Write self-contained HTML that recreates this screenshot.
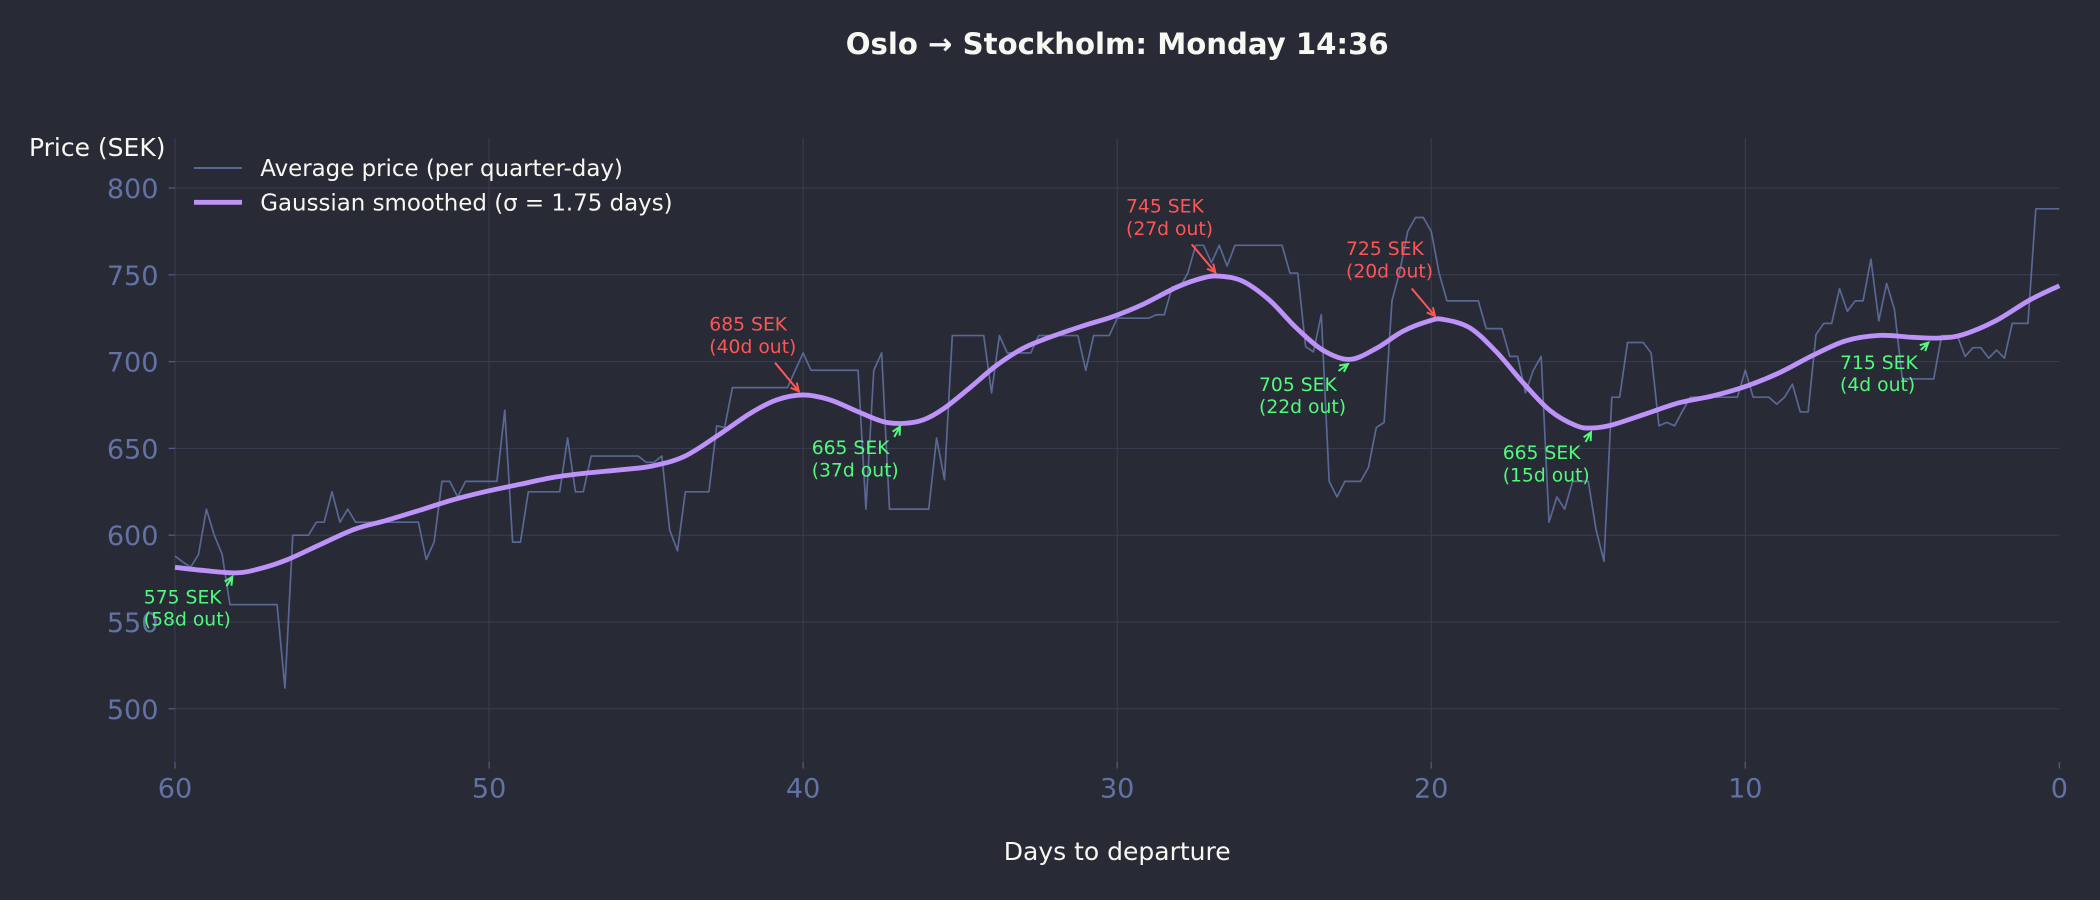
<!DOCTYPE html>
<html>
<head>
<meta charset="utf-8">
<style>
  html, body { margin: 0; padding: 0; background: #282a36; }
  svg { display: block; }
  text { font-family: "DejaVu Sans", "Liberation Sans", sans-serif; }
</style>
</head>
<body>
<svg width="2100" height="900" viewBox="0 0 2100 900" xmlns="http://www.w3.org/2000/svg">
  <rect x="0" y="0" width="2100" height="900" fill="#282a36"/>

  <!-- Title -->
  <text x="1117.2" y="54" text-anchor="middle" font-size="29.17" font-weight="bold" fill="#f8f8f2">Oslo → Stockholm: Monday 14:36</text>

  <!-- Grid lines -->
  <g stroke="#3b3e51" stroke-width="1">
    <line x1="175" y1="188" x2="2059.4" y2="188"/>
    <line x1="175" y1="274.8" x2="2059.4" y2="274.8"/>
    <line x1="175" y1="361.6" x2="2059.4" y2="361.6"/>
    <line x1="175" y1="448.4" x2="2059.4" y2="448.4"/>
    <line x1="175" y1="535.2" x2="2059.4" y2="535.2"/>
    <line x1="175" y1="622" x2="2059.4" y2="622"/>
    <line x1="175" y1="708.8" x2="2059.4" y2="708.8"/>
    <line x1="175" y1="137.7" x2="175" y2="762"/>
    <line x1="489.1" y1="137.7" x2="489.1" y2="762"/>
    <line x1="803.1" y1="137.7" x2="803.1" y2="762"/>
    <line x1="1117.2" y1="137.7" x2="1117.2" y2="762"/>
    <line x1="1431.2" y1="137.7" x2="1431.2" y2="762"/>
    <line x1="1745.3" y1="137.7" x2="1745.3" y2="762"/>
  </g>

  <!-- Tick marks -->
  <g stroke="#4f5b82" stroke-width="1.3">
    <line x1="168.5" y1="188" x2="175" y2="188"/>
    <line x1="168.5" y1="274.8" x2="175" y2="274.8"/>
    <line x1="168.5" y1="361.6" x2="175" y2="361.6"/>
    <line x1="168.5" y1="448.4" x2="175" y2="448.4"/>
    <line x1="168.5" y1="535.2" x2="175" y2="535.2"/>
    <line x1="168.5" y1="622" x2="175" y2="622"/>
    <line x1="168.5" y1="708.8" x2="175" y2="708.8"/>
    <line x1="175" y1="762" x2="175" y2="768.5"/>
    <line x1="489.1" y1="762" x2="489.1" y2="768.5"/>
    <line x1="803.1" y1="762" x2="803.1" y2="768.5"/>
    <line x1="1117.2" y1="762" x2="1117.2" y2="768.5"/>
    <line x1="1431.2" y1="762" x2="1431.2" y2="768.5"/>
    <line x1="1745.3" y1="762" x2="1745.3" y2="768.5"/>
    <line x1="2059.4" y1="762" x2="2059.4" y2="768.5"/>
  </g>

  <!-- Y tick labels -->
  <g font-size="27.08" fill="#6272a4" text-anchor="end">
    <text x="158.5" y="198">800</text>
    <text x="158.5" y="284.8">750</text>
    <text x="158.5" y="371.6">700</text>
    <text x="158.5" y="458.4">650</text>
    <text x="158.5" y="545.2">600</text>
    <text x="158.5" y="632">550</text>
    <text x="158.5" y="718.8">500</text>
  </g>

  <!-- X tick labels -->
  <g font-size="27.08" fill="#6272a4" text-anchor="middle">
    <text x="175" y="797.3">60</text>
    <text x="489.1" y="797.3">50</text>
    <text x="803.1" y="797.3">40</text>
    <text x="1117.2" y="797.3">30</text>
    <text x="1431.2" y="797.3">20</text>
    <text x="1745.3" y="797.3">10</text>
    <text x="2059.4" y="797.3">0</text>
  </g>

  <!-- Axis labels -->
  <text x="165.5" y="156" text-anchor="end" font-size="25" fill="#f8f8f2">Price (SEK)</text>
  <text x="1117.2" y="860" text-anchor="middle" font-size="25" fill="#f8f8f2">Days to departure</text>

  <!-- Data series (data coords: i = quarter-day index 0..240, p = price) -->
  <g id="datag" transform="matrix(7.8515 0 0 -1.736 175 1576.8)">
    <polyline fill="none" stroke="#6272a4" stroke-opacity="0.85" stroke-width="1.7" vector-effect="non-scaling-stroke" stroke-linejoin="round"
      points="0,588 1,584.5 2,581.6 3,589 4,615 5,600 6,589 7,560 13,560 14,512 15,600 17,600 18,607.5 19,607.5 20,625 21,607.5 22,615 23,607.5 31,607.5 32,586 33,596 34,631 35,631 36,622 37,631 41,631 42,672 43,596 44,596 45,625 49,625 50,656 51,625 52,625 53,645.6 59,645.6 60,642 61,642 62,645.6 63,603 64,591 65,625 68,625 69,663 70,662 71,685 78,685 79,695 80,705 81,695 87,695 88,615 89,695 90,705 91,615 96,615 97,656 98,632 99,715 103,715 104,682 105,715 106,705 109,705 110,715 115,715 116,695 117,715 119,715 120,725 124,725 125,727 126,727 127,743 128,743 129,751 130,767 131,767 132,757 133,767 134,755 135,767 141,767 142,751 143,751 144,708.6 145,705.6 146,727 147,631 148,622 149,631 151,631 152,639 153,662 154,665 155,735 156,752 157,775 158,783 159,783 160,775 161,751 162,735 166,735 167,719 169,719 170,703 171,703 172,682 173,695 174,703 175,607.5 176,622 177,615 178,631 180,631 181,603 182,585 183,679.5 184,679.5 185,711 187,711 188,705 189,663 190,665 191,663 192,671.5 193,679.5 199,679.5 200,695 201,679.5 203,679.5 204,675.5 205,679.5 206,687 207,671 208,671 209,715.5 210,722 211,722 212,742 213,729 214,735 215,735 216,759 217,723.5 218,745 219,730 220,690 224,690 225,715 227,715 228,703 229,708 230,708 231,702 232,706.6 233,702 234,722 236,722 237,788 240,788"/>
    <polyline id="smooth" fill="none" stroke="#bd93f9" stroke-width="4.8" vector-effect="non-scaling-stroke" stroke-linejoin="round" stroke-linecap="butt"
      points="0,581.5 3.6,579.7 7.8,578.3 10.8,580.7 14.2,585.7 18.5,594.6 22.9,603.5 26.9,608.5 31.2,614.4 35.4,620.4 39.7,625.3 43.9,629.3 48.2,633.3 52.4,635.8 56.6,637.6 60.7,639.8 64.8,645.2 69,657 73.2,670 76.6,677.9 80,680.8 83.4,678 86.8,671.5 90.2,665.4 92.8,664.4 95.3,666.4 97.9,672.9 101.2,684.8 104.6,697.7 108,707.6 111.4,714 115.6,720.5 119.5,726 123.3,733 127.6,742.9 131,748.3 133.1,749.2 136,746.3 139.4,735.4 142.8,719.5 146.2,706.6 149.6,701.3 153,707.6 156.4,717.5 159.8,723.5 161.5,724.3 164.9,719.5 168.3,705.6 171.7,687.8 175.1,671.9 178.5,663 180.6,661.8 183.1,663.6 187.4,670 191.6,676.3 195.9,680.3 200.1,685.8 204.4,693.7 208.6,703.6 212.8,712 217.1,715.1 221.3,714 224.7,713.6 227.7,715.5 231.9,723.5 236.2,735.4 240,743.7"/>
  </g>

  <!-- Legend -->
  <line x1="194" y1="168" x2="242" y2="168" stroke="#6272a4" stroke-width="1.8"/>
  <line x1="194" y1="202.3" x2="242" y2="202.3" stroke="#bd93f9" stroke-width="4.8"/>
  <text x="260.3" y="176" font-size="22.9" fill="#f8f8f2">Average price (per quarter-day)</text>
  <text x="260.3" y="210.3" font-size="22.9" fill="#f8f8f2">Gaussian smoothed (σ = 1.75 days)</text>

  <!-- Annotations: arrows -->
  <g fill="none" stroke-width="2" stroke-linejoin="miter">
    <path stroke="#50fa7b" d="M226.5,586.2 L232.3,576.8 M231.45,585.7 L232.3,576.8 L224.67,581.46"/>
    <path stroke="#ff5555" d="M775,362.7 L798.8,391.3 M790.6,387.71 L798.8,391.3 L796.76,382.59"/>
    <path stroke="#50fa7b" d="M894.2,437 L900,426.6 M899.61,435.53 L900,426.6 L892.61,431.65"/>
    <path stroke="#ff5555" d="M1191.7,244.4 L1215.3,272.3 M1207.07,268.77 L1215.3,272.3 L1213.19,263.61"/>
    <path stroke="#ff5555" d="M1411.7,288.5 L1435,316 M1426.76,312.48 L1435,316 L1432.88,307.3"/>
    <path stroke="#50fa7b" d="M1338.5,371 L1348,364 M1343.85,371.93 L1348,364 L1339.17,365.45"/>
    <path stroke="#50fa7b" d="M1585.5,442 L1591,432.2 M1590.64,441.14 L1591,432.2 L1583.64,437.28"/>
    <path stroke="#50fa7b" d="M1920.8,349.8 L1928.3,342.6 M1925.21,350.99 L1928.3,342.6 L1919.73,345.15"/>
  </g>

  <!-- Annotations: text -->
  <g font-size="18.75">
    <text x="143.8" y="603.3" fill="#50fa7b">575 SEK</text>
    <text x="143.8" y="625.6" fill="#50fa7b">(58d out)</text>

    <text x="709.3" y="330.5" fill="#ff5555">685 SEK</text>
    <text x="709.3" y="352.8" fill="#ff5555">(40d out)</text>

    <text x="811.7" y="454.2" fill="#50fa7b">665 SEK</text>
    <text x="811.7" y="476.5" fill="#50fa7b">(37d out)</text>

    <text x="1126" y="212.7" fill="#ff5555">745 SEK</text>
    <text x="1126" y="235" fill="#ff5555">(27d out)</text>

    <text x="1346" y="255.1" fill="#ff5555">725 SEK</text>
    <text x="1346" y="277.4" fill="#ff5555">(20d out)</text>

    <text x="1259" y="390.8" fill="#50fa7b">705 SEK</text>
    <text x="1259" y="413.1" fill="#50fa7b">(22d out)</text>

    <text x="1502.7" y="459" fill="#50fa7b">665 SEK</text>
    <text x="1502.7" y="481.3" fill="#50fa7b">(15d out)</text>

    <text x="1840" y="368.8" fill="#50fa7b">715 SEK</text>
    <text x="1840" y="391.1" fill="#50fa7b">(4d out)</text>
  </g>
</svg>
<script>
(function () {
  try {
    var pl = document.getElementById('smooth');
    if (!pl) return;
    var pts = pl.getAttribute('points').trim().split(/\s+/).map(function (s) {
      return s.split(',').map(Number);
    });
    var n = pts.length;
    var d = 'M' + pts[0][0] + ',' + pts[0][1];
    for (var i = 0; i < n - 1; i++) {
      var p0 = pts[i - 1] || pts[i];
      var p1 = pts[i];
      var p2 = pts[i + 1];
      var p3 = pts[i + 2] || pts[i + 1];
      var c1x = p1[0] + (p2[0] - p0[0]) / 6, c1y = p1[1] + (p2[1] - p0[1]) / 6;
      var c2x = p2[0] - (p3[0] - p1[0]) / 6, c2y = p2[1] - (p3[1] - p1[1]) / 6;
      d += ' C' + c1x.toFixed(3) + ',' + c1y.toFixed(3) + ' ' + c2x.toFixed(3) + ',' + c2y.toFixed(3) + ' ' + p2[0] + ',' + p2[1];
    }
    var ns = 'http://www.w3.org/2000/svg';
    var path = document.createElementNS(ns, 'path');
    path.setAttribute('d', d);
    path.setAttribute('fill', 'none');
    path.setAttribute('stroke', '#bd93f9');
    path.setAttribute('stroke-width', '4.8');
    path.setAttribute('vector-effect', 'non-scaling-stroke');
    path.setAttribute('stroke-linejoin', 'round');
    pl.parentNode.insertBefore(path, pl);
    pl.parentNode.removeChild(pl);
  } catch (e) {}
})();
</script>
</body>
</html>
